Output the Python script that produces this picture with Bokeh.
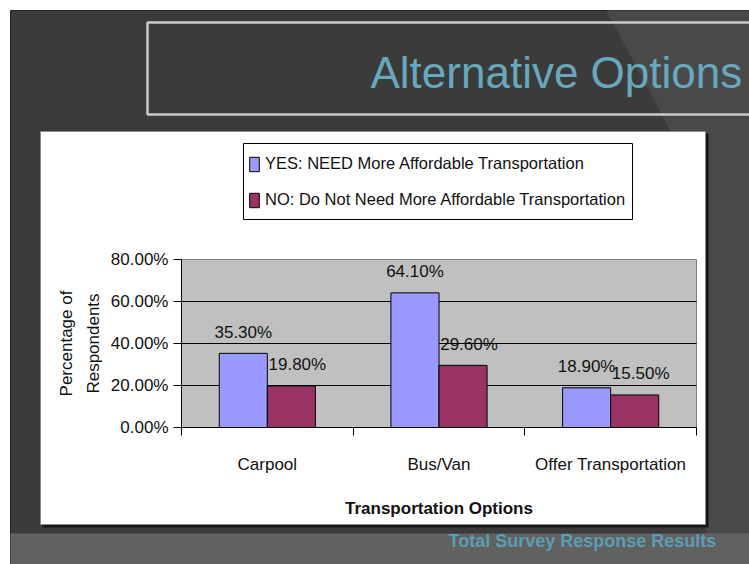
import numpy as np
from bokeh.plotting import figure
from bokeh.models import (Range1d, LinearAxis, FixedTicker, NumeralTickFormatter,
                          ColumnDataSource, Legend, LegendItem, Label)
from bokeh.core.properties import value
from bokeh.transform import dodge
from bokeh.embed import file_html
from bokeh.resources import INLINE

# ---------------- data ----------------
categories = ["Carpool", "Bus/Van", "Offer Transportation"]
yes_values = [0.353, 0.641, 0.189]
no_values = [0.198, 0.296, 0.155]
series_names = ["YES: NEED More Affordable Transportation",
                "NO: Do Not Need More Affordable Transportation"]
y_ticks = [0.0, 0.2, 0.4, 0.6, 0.8]
title_text = "Alternative Options"
footer_text = "Total Survey Response Results"
x_title = "Transportation Options"
y_title = "Percentage of\nRespondents"

# ---------------- layout (picture pixels) ----------------
W, H = 749, 564
PX0, PY0 = 0, 0
PLOT_L, PLOT_R, PLOT_T, PLOT_B = 181, 696, 259, 427
n = len(categories)
YMAX = y_ticks[-1]
FONT = "Liberation Sans"

xu = n / (PLOT_R - PLOT_L)
yu = YMAX / (PLOT_B - PLOT_T)
x_range = Range1d(0 - (PLOT_L - PX0) * xu, n + (PX0 + W - PLOT_R) * xu)
y_range = Range1d(0 - (PY0 + H - PLOT_B) * yu, YMAX + (PLOT_T - PY0) * yu)

p = figure(width=W, height=H, x_range=x_range, y_range=y_range,
           output_backend="svg", toolbar_location=None, title=None,
           min_border=0, background_fill_color="white",
           border_fill_color="white", outline_line_color=None)
p.extra_x_ranges = {"px": Range1d(PX0, PX0 + W)}
p.extra_y_ranges = {"px": Range1d(PY0 + H, PY0)}
p.xgrid.visible = False
p.ygrid.visible = False

PXR = dict(x_range_name="px", y_range_name="px")

def box(l, t, r, b, **kw):
    p.quad(left=l, right=r, top=t, bottom=b, **PXR, **kw)

# slide background
box(10, 10, 760, 570, fill_color="#3b3b3b", line_color="#222222", line_width=1)
p.patch(x=[606, 760, 760, 705, 705], y=[10, 10, 570, 570, 196],
        fill_color="#494949", line_color=None, **PXR)
box(10, 533, 760, 570, fill_color="#616161", line_color=None)
# title frame
box(147, 22, 780, 114, fill_color=None, line_color="#cacaca", line_width=2.5)
# chart panel with shadow
box(42, 133, 708, 527, fill_color="#161616", line_color=None)
box(40, 131, 705, 524, fill_color="white", line_color="#8c8c8c", line_width=1)
# legend frame
box(243, 143, 632, 219, fill_color="white", line_color="black", line_width=1)

# plot area
p.quad(left=0, right=n, bottom=0, top=YMAX, fill_color="#c0c0c0",
       line_color="#808080", line_width=1)
grid_y = y_ticks[1:-1]
p.segment(x0=[0] * len(grid_y), x1=[n] * len(grid_y), y0=grid_y, y1=grid_y,
          line_color="black", line_width=1)

src = ColumnDataSource(dict(
    x=np.arange(n) + 0.5,
    yes=yes_values, no=no_values,
    yes_lbl=[f"{v * 100:.2f}%" for v in yes_values],
    no_lbl=[f"{v * 100:.2f}%" for v in no_values],
))
BW = 0.28
r_yes = p.vbar(x=dodge("x", -BW / 2), top="yes", width=BW, source=src,
               fill_color="#9999ff", line_color="black", line_width=1)
r_no = p.vbar(x=dodge("x", BW / 2), top="no", width=BW, source=src,
              fill_color="#993366", line_color="black", line_width=1)

lbl_kw = dict(text_align="center", text_baseline="middle",
              text_font=value(FONT), text_font_size="17px", text_color="#111111",
              y_offset=-21, source=src)
p.text(x=dodge("x", -BW / 2), y="yes", text="yes_lbl", **lbl_kw)
p.text(x=dodge("x", BW / 2), y="no", text="no_lbl", x_offset=6, **lbl_kw)

# y axis
yax = p.yaxis[0]
yax.fixed_location = 0
yax.bounds = (0, YMAX)
yax.ticker = FixedTicker(ticks=y_ticks, minor_ticks=[])
yax.formatter = NumeralTickFormatter(format="0.00%")
yax.axis_line_color = "black"
yax.major_tick_line_color = "black"
yax.major_tick_out = 8
yax.major_tick_in = 0
yax.minor_tick_line_color = None
yax.major_label_standoff = 5
yax.major_label_text_font = FONT
yax.major_label_text_font_size = "17px"
yax.major_label_text_color = "#111111"
yax.axis_label = y_title
yax.axis_label_text_font = FONT
yax.axis_label_text_font_size = "17px"
yax.axis_label_text_font_style = "normal"
yax.axis_label_text_color = "#111111"
yax.axis_label_standoff = 5
yax.axis_label_text_line_height = 1.4

# x axis: boundary ticks
xax = p.xaxis[0]
xax.fixed_location = 0
xax.bounds = (0, n)
xax.ticker = FixedTicker(ticks=list(range(n + 1)), minor_ticks=[])
xax.axis_line_color = "black"
xax.major_tick_line_color = "black"
xax.major_tick_out = 8
xax.major_tick_in = 0
xax.minor_tick_line_color = None
xax.major_label_text_alpha = 0

# x axis: category labels
centers = [float(i + 0.5) for i in range(n)]
xlab = LinearAxis(fixed_location=0, bounds=(0, n),
                  ticker=FixedTicker(ticks=centers, minor_ticks=[]),
                  major_label_overrides={c: name for c, name in zip(centers, categories)},
                  axis_line_color=None, major_tick_line_color=None,
                  minor_tick_line_color=None, major_tick_out=0, major_tick_in=0,
                  major_label_standoff=27, major_label_text_font=FONT,
                  major_label_text_font_size="17px", major_label_text_color="#111111",
                  axis_label=x_title, axis_label_text_font=FONT,
                  axis_label_text_font_size="17px", axis_label_text_font_style="bold",
                  axis_label_text_color="#111111", axis_label_standoff=22)
p.add_layout(xlab, "below")

# legend
legend = Legend(items=[LegendItem(label=series_names[0], renderers=[r_yes]),
                       LegendItem(label=series_names[1], renderers=[r_no])],
                location=(248 - PX0, H - (209 - PY0)),
                glyph_width=12, glyph_height=18, label_height=18,
                label_standoff=5, spacing=17, padding=0, margin=0,
                border_line_color=None, background_fill_alpha=0,
                label_text_font=FONT, label_text_font_size="16.5px",
                label_text_color="#111111")
p.add_layout(legend)

# slide texts
p.add_layout(Label(x=370, y=72, text=title_text, text_font=FONT,
                   text_font_size="44px", text_color="#67a8bc",
                   text_baseline="middle", text_align="left", **PXR))
p.add_layout(Label(x=448, y=540, text=footer_text, text_font=FONT,
                   text_font_size="18px", text_font_style="bold",
                   text_color="#5b9db3", text_baseline="middle",
                   text_align="left", **PXR))

open("out.html", "w").write(file_html(p, INLINE))
